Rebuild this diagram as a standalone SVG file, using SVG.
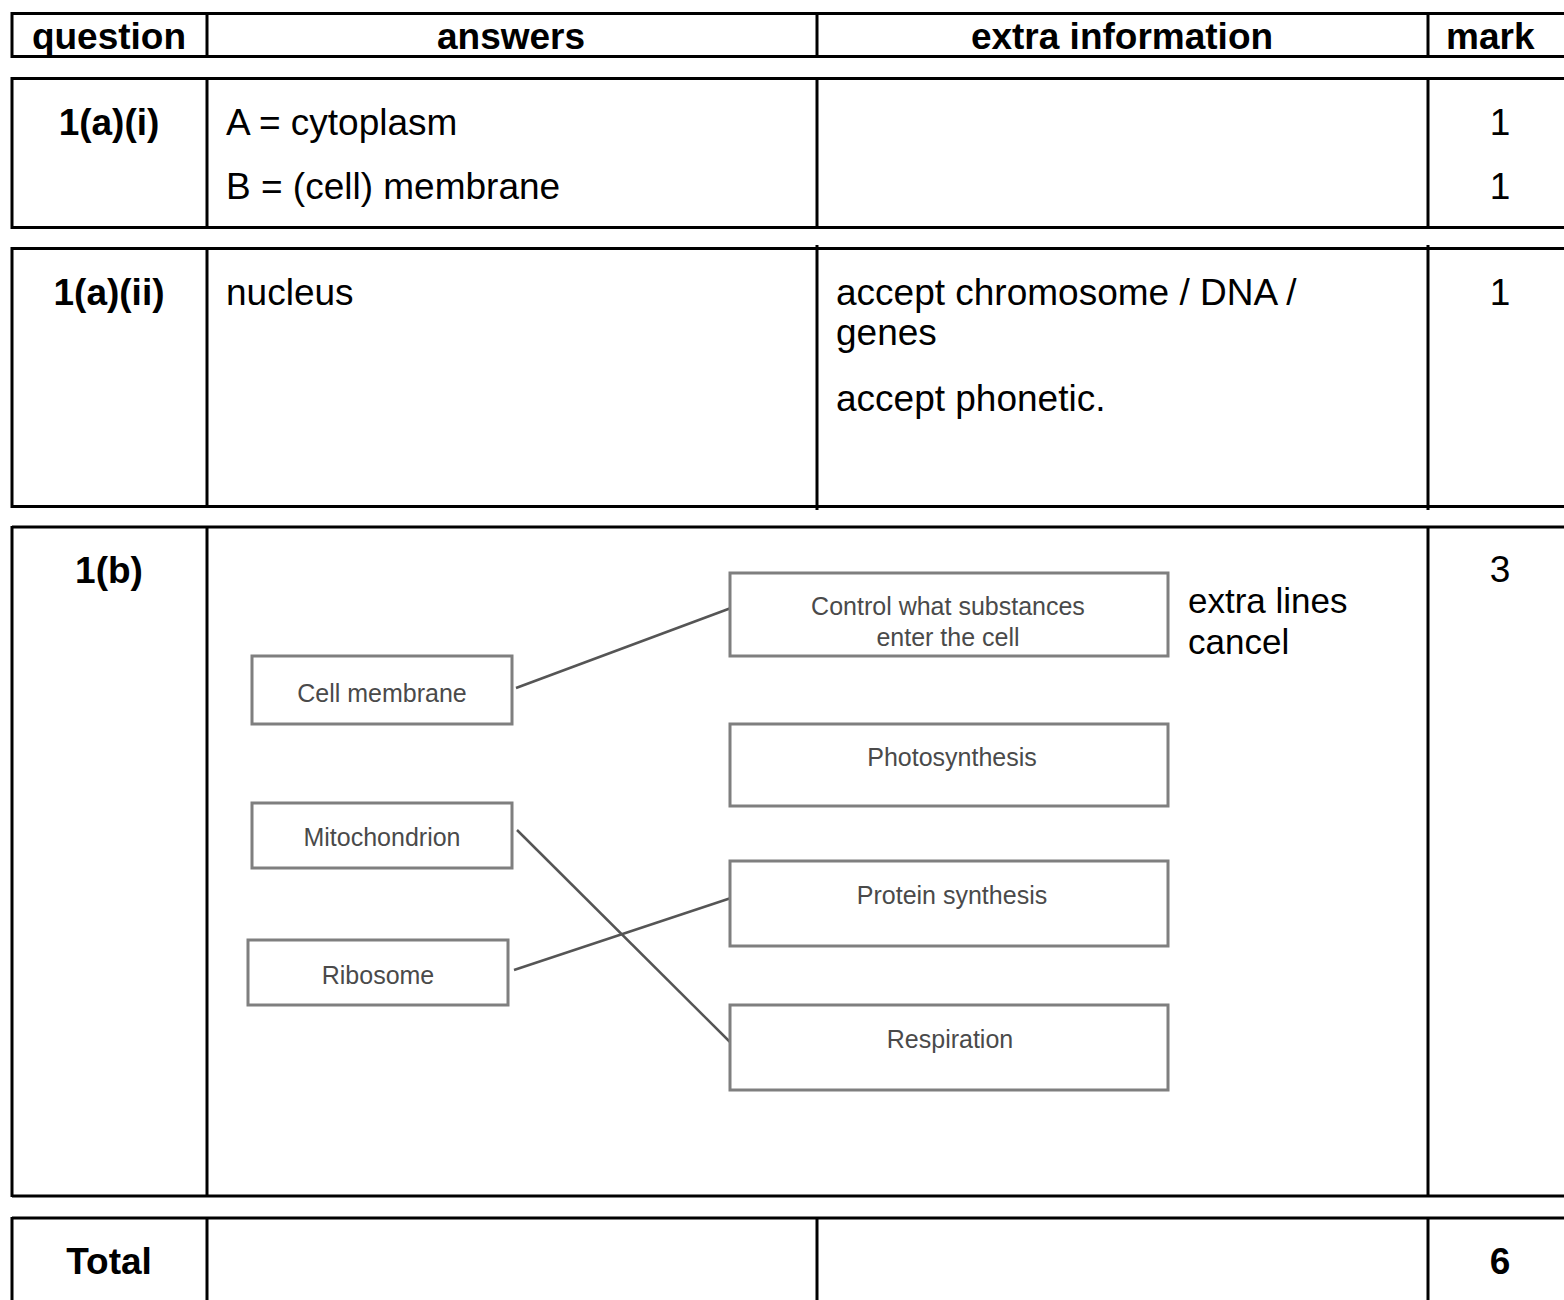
<svg xmlns="http://www.w3.org/2000/svg" width="1564" height="1300" viewBox="0 0 1564 1300">
<style>
.t{font-family:"Liberation Sans",Arial,sans-serif;font-size:37px;fill:#000}
.b{font-weight:bold}
.m{text-anchor:middle}
.s{font-family:"Liberation Sans",Arial,sans-serif;font-size:35px;fill:#000}
.bx{fill:#fff;stroke:#7f7f7f;stroke-width:3}
.bt{font-family:"Liberation Sans",Arial,sans-serif;font-size:25px;fill:#4a4a4a;text-anchor:middle}
.g{stroke:#000;stroke-width:3;fill:none}
.c{stroke:#555;stroke-width:2.5;fill:none}
</style>
<rect width="1564" height="1300" fill="#fff"/>
<g id="grid">
<path class="g" d="M12,13.5H1564M12,56.5H1564M12,12V58M207,12V58M817,12V58M1428,12V58"/>
<path class="g" d="M12,78.5H1564M12,227.5H1564M12,77V229M207,77V229M817,77V229M1428,77V229"/>
<path class="g" d="M12,248.5H1564M12,506.5H1564M12,247V508M207,247V508M817,245V510M1428,245V510"/>
<path class="g" d="M12,527H1564M12,1196H1564M12,526V1197M207,526V1197M1428,526V1197"/>
<path class="g" d="M12,1218H1564M12,1217V1300M207,1217V1300M817,1217V1300M1428,1217V1300"/>
</g>
<g id="header">
<text class="t b m" x="109" y="49">question</text>
<text class="t b m" x="511" y="49">answers</text>
<text class="t b m" x="1122" y="49">extra information</text>
<text class="t b" x="1446" y="49">mark</text>
</g>
<g id="row-1ai">
<text class="t b m" x="109" y="135">1(a)(i)</text>
<text class="t" x="226" y="135">A = cytoplasm</text>
<text class="t" x="226" y="199">B = (cell) membrane</text>
<text class="t m" x="1500" y="135">1</text>
<text class="t m" x="1500" y="199">1</text>
</g>
<g id="row-1aii">
<text class="t b m" x="109" y="305">1(a)(ii)</text>
<text class="t" x="226" y="305">nucleus</text>
<text class="t" x="836" y="305">accept chromosome / DNA /</text>
<text class="t" x="836" y="345">genes</text>
<text class="t" x="836" y="411">accept phonetic.</text>
<text class="t m" x="1500" y="305">1</text>
</g>
<g id="row-1b">
<text class="t b m" x="109" y="583">1(b)</text>
<text class="t m" x="1500" y="582">3</text>
<text class="s" x="1188" y="613">extra lines</text>
<text class="s" x="1188" y="654">cancel</text>
</g>
<g id="connectors">
<line class="c" x1="516" y1="688" x2="731" y2="608"/>
<line class="c" x1="517" y1="830" x2="731" y2="1043"/>
<line class="c" x1="514" y1="970" x2="731" y2="898"/>
</g>
<g id="n-cell-membrane"><rect class="bx" x="252" y="656" width="260" height="68"/><text class="bt" x="382" y="702">Cell membrane</text></g>
<g id="n-mitochondrion"><rect class="bx" x="252" y="803" width="260" height="65"/><text class="bt" x="382" y="846">Mitochondrion</text></g>
<g id="n-ribosome"><rect class="bx" x="248" y="940" width="260" height="65"/><text class="bt" x="378" y="984">Ribosome</text></g>
<g id="n-control"><rect class="bx" x="730" y="573" width="438" height="83"/><text class="bt" x="948" y="615">Control what substances</text><text class="bt" x="948" y="646">enter the cell</text></g>
<g id="n-photosynthesis"><rect class="bx" x="730" y="724" width="438" height="82"/><text class="bt" x="952" y="766">Photosynthesis</text></g>
<g id="n-protein"><rect class="bx" x="730" y="861" width="438" height="85"/><text class="bt" x="952" y="904">Protein synthesis</text></g>
<g id="n-respiration"><rect class="bx" x="730" y="1005" width="438" height="85"/><text class="bt" x="950" y="1048">Respiration</text></g>
<g id="row-total">
<text class="t b m" x="109" y="1274">Total</text>
<text class="t b m" x="1500" y="1274">6</text>
</g>
</svg>
